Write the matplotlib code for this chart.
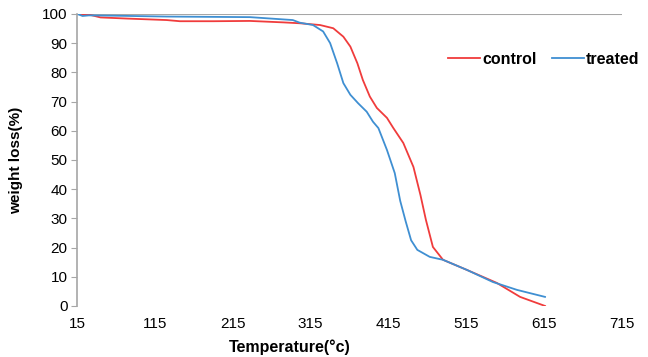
import matplotlib.pyplot as plt

# TGA curves
temp_control = [15, 30, 45, 80, 130, 147, 190, 237, 280, 301, 327, 344, 357, 366, 375,
                382, 391, 400, 413, 421, 434, 447, 456, 463, 472, 485, 516, 554,
                584, 616]
wt_control = [100, 99.8, 98.8, 98.4, 97.9, 97.5, 97.5, 97.6, 97.1, 96.8, 96.2, 95.1, 92.2,
              88.8, 83.1, 77.4, 71.7, 67.8, 64.4, 61.0, 55.8, 47.6, 38.0, 29.5,
              20.2, 15.8, 12.3, 7.9, 3.1, 0.0]

temp_treated = [15, 22, 30, 60, 130, 237, 292, 301, 318, 331, 340, 349, 357, 366, 376,
                387, 395, 402, 413, 423, 430, 437, 444, 452, 468, 485, 516, 549, 580, 616]
wt_treated = [100, 99.3, 99.5, 99.4, 99.1, 98.9, 97.9, 97.0, 96.2, 94.0, 90.0, 83.1, 76.3,
              72.3, 69.4, 66.5, 63.1, 60.9, 53.4, 45.5, 36.0, 29.0, 22.5, 19.2, 16.8,
              15.8, 12.3, 8.2, 5.5, 3.1]

x_ticks = [15, 115, 215, 315, 415, 515, 615, 715]
y_ticks = [0, 10, 20, 30, 40, 50, 60, 70, 80, 90, 100]

plt.rcParams["font.family"] = ["Liberation Sans", "DejaVu Sans"]

fig = plt.figure(figsize=(6.48, 3.57), dpi=100)
ax = fig.add_axes([0.119, 0.143, 0.841, 0.818])

ax.plot(temp_control, wt_control, color="#f03c3c", lw=1.3, label="control",
        solid_joinstyle="round")
ax.plot(temp_treated, wt_treated, color="#3f8fd2", lw=1.3, label="treated",
        solid_joinstyle="round")

ax.set_xlim(15, 715)
ax.set_ylim(0, 100)
ax.set_xticks(x_ticks)
ax.set_yticks(y_ticks)
ax.axhline(100, color="#a6a6a6", lw=1.5, zorder=0)

for s in ["top", "right", "bottom"]:
    ax.spines[s].set_visible(False)
ax.spines["left"].set_color("#a6a6a6")
ax.spines["left"].set_linewidth(1.2)
ax.tick_params(axis="y", length=4, color="#a6a6a6", labelsize=11, pad=3)
ax.tick_params(axis="x", length=0, labelsize=11, pad=8)

ax.set_xlabel("Temperature(°c)", fontsize=11.5, fontweight="bold")
ax.xaxis.set_label_coords(0.39, -0.115)
ax.set_ylabel("weight loss(%)", fontsize=11, fontweight="bold")
ax.yaxis.set_label_coords(-0.1, 0.5)

ax.legend(loc="center left", bbox_to_anchor=(0.655, 0.845), ncol=2, frameon=False,
          prop={"weight": "bold", "size": 11.5}, handlelength=2.0, handletextpad=0.1,
          columnspacing=1.0)

fig.savefig("out.png", dpi=100)
